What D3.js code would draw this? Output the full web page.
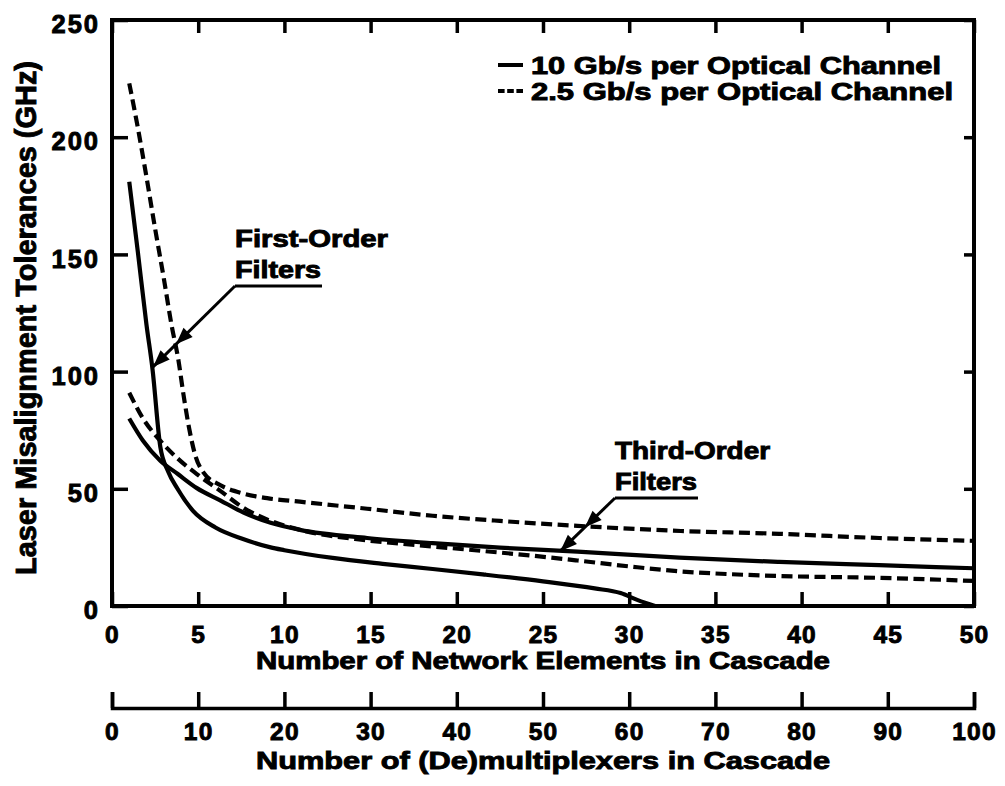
<!DOCTYPE html>
<html>
<head>
<meta charset="utf-8">
<script src="https://cdn.jsdelivr.net/npm/d3@7"></script>
<style>
  html, body { margin: 0; padding: 0; background: #fff; }
  svg { display: block; }
  text { font-family: "Liberation Sans", Arial, Helvetica, sans-serif; font-weight: bold; fill: #000; }
</style>
</head>
<body>
<svg id="chart" width="1005" height="786"></svg>
<script>
// ---- data ----
const seriesLabels = ["10 Gb/s per Optical Channel", "2.5 Gb/s per Optical Channel"];
const elementTicks = [0, 5, 10, 15, 20, 25, 30, 35, 40, 45, 50];
const demuxTicks = [0, 10, 20, 30, 40, 50, 60, 70, 80, 90, 100];
const toleranceTicks = [0, 50, 100, 150, 200, 250];

// [network elements, tolerance in GHz]
const firstOrder10G = [[1,181],[1.5,151],[2,120],[2.35,101],[2.8,68],[3.25,57.5],[3.8,50],[4.7,40.6],[6,33.5],
  [7.6,28.6],[9.2,25],[10,23.8],[12.8,20.5],[15.7,18],[18.6,15.8],[21.5,13.5],[25,10.5],[28,7.5],[29.5,5.5],[30.5,2.5],[31.5,0]];
const firstOrder2G5 = [[1,223],[1.5,204],[2,183],[2.5,161],[3,140],[3.45,120],[3.85,105],[4.15,90],[4.47,76],[4.84,64],
  [5.3,57],[6.3,51.5],[7.6,48],[9,46],[10.9,44.5],[14.8,41.5],[18.6,38.5],[22.5,36.3],[27,34.2],[33,32],[38.7,30.8],[44.5,29],[50,27.8]];
const thirdOrder10G = [[1,80],[1.8,70.5],[2.8,62],[3.8,56.4],[4.9,50.4],[6.3,45],[7.6,40],[9.2,35.5],[10.9,32.5],
  [14.8,29],[18.6,26.8],[22.5,24.9],[27,23.2],[32.9,20.6],[38.7,18.8],[44.5,17.4],[50,16.1]];
const thirdOrder2G5 = [[1,91],[1.8,80],[2.8,70.5],[3.8,63],[4.9,56.4],[6.3,49],[7.6,42],[9.2,36.3],[10.9,32.5],
  [14.8,28],[18.6,25.4],[22.5,22.8],[24.2,21.6],[27,19.4],[30,16.9],[32.9,14.8],[35.8,13.6],[38.7,12.8],[44.5,12],[50,10.7]];

// ---- layout ----
const svg = d3.select("#chart");
const x = d3.scaleLinear().domain([0, 50]).range([112, 974]);
const xDemux = d3.scaleLinear().domain([0, 100]).range([112, 974]);
const y = d3.scaleLinear().domain([0, 250]).range([606, 20]);
const tickFont = 24.5;
const inkStroke = 0.9;

function styleTickText(g, size, spacing) {
  g.selectAll(".tick text").attr("font-size", size).attr("fill", "#000")
    .attr("stroke", "#000").attr("stroke-width", inkStroke).attr("letter-spacing", spacing)
    .attr("font-family", "'Liberation Sans', Arial, sans-serif").attr("font-weight", "bold");
}
function styleAxis(g, tickWidth) {
  g.select(".domain").remove();
  g.selectAll(".tick line").attr("stroke", "#000").attr("stroke-width", tickWidth);
  styleTickText(g, tickFont, 1.2);
}

// bottom axis with labels
const gBottom = svg.append("g").attr("transform", `translate(0,${y(0)})`)
  .call(d3.axisBottom(x).tickValues(elementTicks).tickSize(-14).tickSizeOuter(0).tickPadding(19.6));
styleAxis(gBottom, 3.5);
// top ticks
const gTop = svg.append("g").attr("transform", `translate(0,${y(250)})`)
  .call(d3.axisTop(x).tickValues(elementTicks).tickSize(-13).tickSizeOuter(0).tickFormat(""));
styleAxis(gTop, 3.5);
// left axis with labels
const gLeft = svg.append("g").attr("transform", `translate(${x(0)},0)`)
  .call(d3.axisLeft(y).tickValues(toleranceTicks).tickSize(-16).tickSizeOuter(0).tickPadding(12));
styleAxis(gLeft, 3.5);
styleTickText(gLeft, 25.5, 2);
gLeft.selectAll(".tick text").attr("dy", "0.5em");
// right ticks
const gRight = svg.append("g").attr("transform", `translate(${x(50)},0)`)
  .call(d3.axisRight(y).tickValues(toleranceTicks).tickSize(-10).tickSizeOuter(0).tickFormat(""));
styleAxis(gRight, 3.5);

// plot frame
svg.append("rect")
  .attr("x", x(0)).attr("y", y(250))
  .attr("width", x(50) - x(0)).attr("height", y(0) - y(250))
  .attr("fill", "none").attr("stroke", "#000").attr("stroke-width", 4);

// secondary axis: (de)multiplexers
const gDemux = svg.append("g").attr("transform", "translate(0,708)")
  .call(d3.axisBottom(xDemux).tickValues(demuxTicks).tickSize(-16).tickSizeOuter(-16).tickPadding(14.6));
gDemux.select(".domain").attr("stroke", "#000").attr("stroke-width", 3.5).attr("fill", "none");
gDemux.selectAll(".tick line").attr("stroke", "#000").attr("stroke-width", 3.5);
styleTickText(gDemux, tickFont, 1.2);

// axis titles
function label(sel, txt, px, py, size, len, anchor) {
  return sel.append("text").attr("x", px).attr("y", py)
    .attr("font-size", size).attr("text-anchor", anchor || "start")
    .attr("stroke", "#000").attr("stroke-width", inkStroke)
    .attr("textLength", len).attr("lengthAdjust", "spacingAndGlyphs")
    .text(txt);
}
const cx = (x(0) + x(50)) / 2;
label(svg, "Number of Network Elements in Cascade", cx, 669, 24, 574, "middle");
label(svg, "Number of (De)multiplexers in Cascade", cx, 769, 24, 574, "middle");
svg.append("text")
  .attr("transform", "translate(36,318) rotate(-90)")
  .attr("text-anchor", "middle").attr("font-size", 29.5)
  .attr("stroke", "#000").attr("stroke-width", inkStroke)
  .attr("textLength", 514).attr("lengthAdjust", "spacingAndGlyphs")
  .text("Laser Misalignment Tolerances (GHz)");

// curves
const line = d3.line().x(d => x(d[0])).y(d => y(d[1])).curve(d3.curveMonotoneX);
const curves = [
  { data: firstOrder10G, dashed: false },
  { data: firstOrder2G5, dashed: true },
  { data: thirdOrder10G, dashed: false },
  { data: thirdOrder2G5, dashed: true }
];
svg.append("g").selectAll("path").data(curves).join("path")
  .attr("d", d => line(d.data))
  .attr("fill", "none").attr("stroke", "#000")
  .attr("stroke-width", 4.2)
  .attr("stroke-linejoin", "round")
  .attr("stroke-dasharray", d => d.dashed ? "11,5.5" : null);

// legend
const legend = svg.append("g");
[0, 1].forEach(i => {
  const ly = i === 0 ? 65 : 91;
  legend.append("line").attr("x1", 498).attr("x2", 523).attr("y1", ly).attr("y2", ly)
    .attr("stroke", "#000").attr("stroke-width", 4)
    .attr("stroke-dasharray", i === 1 ? "6.6,2.6" : null);
  label(legend, seriesLabels[i], 531, i === 0 ? 74 : 100, 23.3, i === 0 ? 410 : 422);
});

// annotations with leader arrows
function arrowHead(g, tip, from) {
  const ang = Math.atan2(tip[1] - from[1], tip[0] - from[0]);
  const L = 17, w = 6.5;
  const bx = tip[0] - L * Math.cos(ang), by = tip[1] - L * Math.sin(ang);
  const px = -Math.sin(ang) * w, py = Math.cos(ang) * w;
  g.append("path")
    .attr("d", `M${tip[0]},${tip[1]}L${bx + px},${by + py}L${bx - px},${by - py}Z`)
    .attr("fill", "#000");
}
function annotate(lines, textX, baseline, widths, underlineEnd, tip, midFrac) {
  const g = svg.append("g");
  lines.forEach((t, i) => label(g, t, textX, baseline + i * 31, 23, widths[i]));
  const uy = baseline + 31 + 8;
  g.append("line").attr("x1", textX).attr("x2", underlineEnd).attr("y1", uy).attr("y2", uy)
    .attr("stroke", "#000").attr("stroke-width", 3);
  const start = [textX, uy];
  g.append("line").attr("x1", start[0]).attr("y1", start[1]).attr("x2", tip[0]).attr("y2", tip[1])
    .attr("stroke", "#000").attr("stroke-width", 3);
  arrowHead(g, tip, start);
  const mid = [start[0] + (tip[0] - start[0]) * midFrac, start[1] + (tip[1] - start[1]) * midFrac];
  arrowHead(g, mid, start);
}
annotate(["First-Order", "Filters"], 235, 247, [153, 86], 322, [x(2.38), y(102)], 0.72);
annotate(["Third-Order", "Filters"], 615, 459, [155, 82], 698, [x(26), y(23.4)], 0.55);
</script>
</body>
</html>
